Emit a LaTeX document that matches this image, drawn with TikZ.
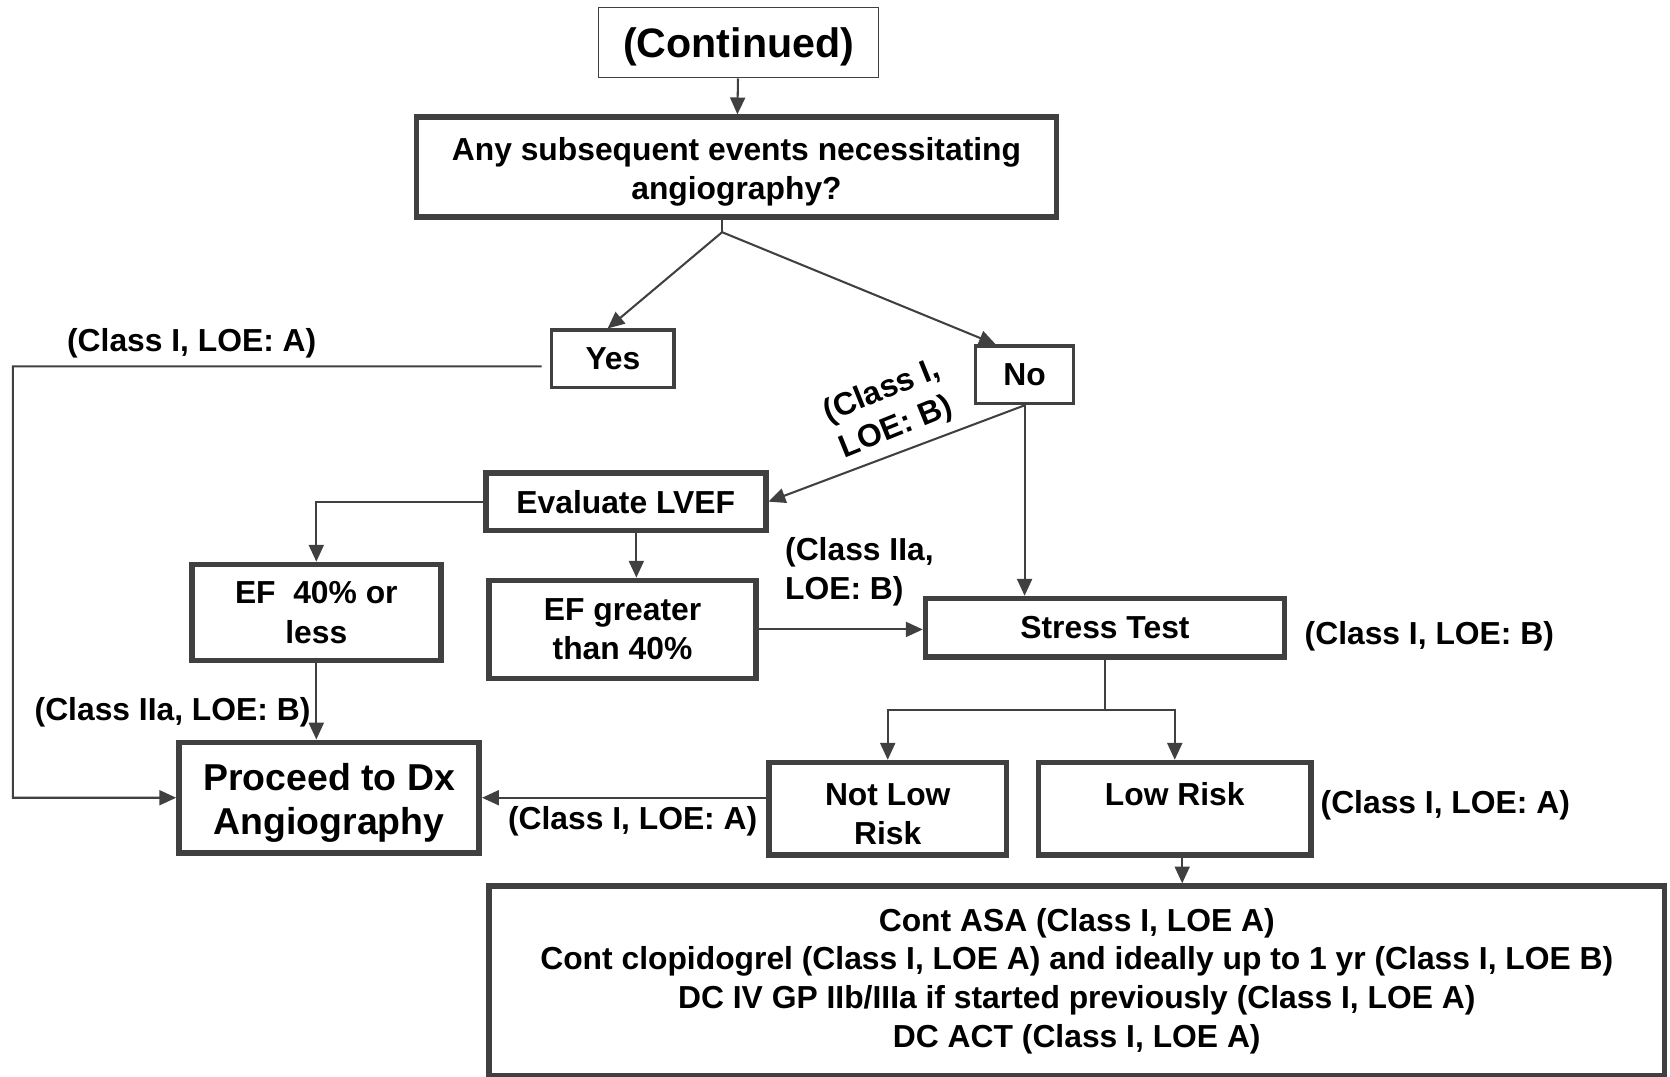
\documentclass[tikz,border=0pt]{standalone}
\usepackage{fontspec}
\setmainfont{Liberation Sans}
\usetikzlibrary{arrows.meta}
\definecolor{linegray}{HTML}{404040}
\newcommand\dropline[1]{\rule{0pt}{#1}}

\begin{document}
\begin{tikzpicture}[x=0.02cm, y=-0.02cm,
    every node/.style={font=\fontsize{17}{21}\selectfont\bfseries},
    box/.style={draw=linegray, line width=3pt, align=center, inner sep=0pt},
    thinbox/.style={draw=linegray, line width=1.8pt, align=center, inner sep=0pt},
    arr/.style={draw=linegray, line width=1.1pt, -{Triangle[length=9pt,width=8pt]}},
    link/.style={draw=linegray, line width=1.1pt}]
    \useasboundingbox (0,0) rectangle (1568,1011);

    \node[draw=linegray, line width=0.8pt, minimum width=5.26cm, minimum height=1.32cm,
        font=\fontsize{22}{26}\selectfont\bfseries] (cont) at (693.5,40) {\dropline{20.4pt}(Continued)};
    \node[box, minimum width=12.02cm, minimum height=1.88cm] (quest) at (691.5,157)
        {\dropline{17pt}Any subsequent events necessitating\\angiography?};
    \node[thinbox, minimum width=2.3cm, minimum height=1.08cm] (yes) at (575.5,337) {Yes};
    \node[thinbox, minimum width=1.84cm, minimum height=1.08cm] (no) at (962,352) {No};
    \node[box, minimum width=5.26cm, minimum height=1.08cm] (lvef) at (587.5,471) {Evaluate LVEF};
    \node[box, minimum width=4.68cm, minimum height=1.8cm] (eflow) at (297,575) {EF\ \ 40\% or\\less};
    \node[box, minimum width=5.02cm, minimum height=1.84cm] (efhigh) at (584.5,591) {EF greater\\than 40\%};
    \node[box, minimum width=6.74cm, minimum height=1.1cm] (stress) at (1037.5,589.5) {Stress Test};
    \node[box, minimum width=4.46cm, minimum height=1.74cm] (notlow) at (833.5,759.5)
        {\dropline{17pt}Not Low\\Risk};
    \node[box, minimum width=5.12cm, minimum height=1.74cm] (low) at (1103,759.5)
        {\dropline{17pt}Low Risk\\\phantom{Risk}};
    \node[box, minimum width=5.64cm, minimum height=2.08cm,
        font=\fontsize{20}{23.6}\selectfont\bfseries] (angio) at (309,749) {\dropline{20pt}Proceed to Dx\\Angiography};
    \node[box, minimum width=22.08cm, minimum height=3.56cm,
        font=\fontsize{17}{20.7}\selectfont\bfseries] (cont2) at (1011,921)
        {Cont ASA (Class I, LOE A)\\
         Cont clopidogrel (Class I, LOE A) and ideally up to 1 yr (Class I, LOE B)\\
         DC IV GP IIb/IIIa if started previously (Class I, LOE A)\\
         DC ACT (Class I, LOE A)};

    \coordinate (split) at (678,218);
    \coordinate (leftrail) at (12,344);
    \coordinate (riskjoin) at (1037.5,667);

    \draw[arr] (cont) -- (quest);
    \draw[link] (quest.south -| split) -- (split);
    \draw[arr] (split) -- ([xshift=-0.1cm]yes.north);
    \draw[arr] (split) -- ([xshift=-0.54cm]no.north);
    \draw[arr] ([xshift=-0.16cm,yshift=-0.14cm]yes.west) -- (leftrail) |- (angio.west);
    \draw[arr] (no.south) -- (lvef.east);
    \draw[arr] (no.south) -- (no.south |- stress.north);
    \draw[arr] (lvef.west) -| (eflow.north);
    \draw[arr] ([xshift=0.2cm]lvef.south) -- ([xshift=0.2cm]lvef.south |- efhigh.north);
    \draw[arr] (efhigh.east) -- (efhigh.east -| stress.west);
    \draw[link] (stress.south) -- (riskjoin);
    \draw[arr] (riskjoin) -| (notlow.north);
    \draw[arr] (riskjoin) -| (low.north);
    \draw[arr] (notlow.west |- angio.east) -- (angio.east);
    \draw[arr] (eflow.south) -- (eflow.south |- angio.north);
    \draw[arr] ([xshift=0.14cm]low.south) -- ([xshift=0.14cm]low.south |- cont2.north);

    \node (labyes) at (180,322) {(Class I, LOE: A)};
    \node[rotate=22, align=center, inner sep=1pt] (labno) at (835,385) {(Class I,\\LOE: B)};
    \node[anchor=west, align=left] (labhigh) at (731,537) {(Class IIa,\\LOE: B)};
    \node (labstress) at (1342,597) {(Class I, LOE: B)};
    \node (lablow) at (162,669) {(Class IIa, LOE: B)};
    \node (labnotlow) at (594,771) {(Class I, LOE: A)};
    \node (labrisk) at (1357,756) {(Class I, LOE: A)};
\end{tikzpicture}
\end{document}
